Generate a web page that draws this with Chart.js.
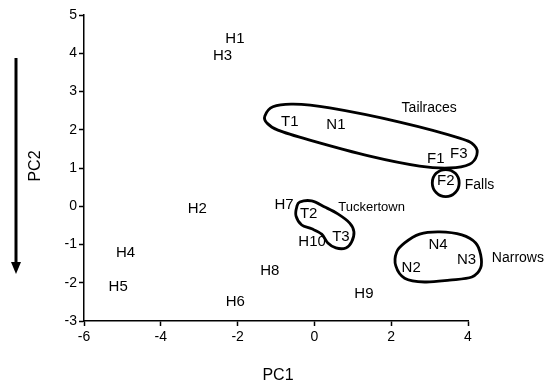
<!DOCTYPE html>
<html>
<head>
<meta charset="utf-8">
<script src="https://cdn.jsdelivr.net/npm/chart.js@4/dist/chart.umd.min.js"></script>
<style>
  html, body { margin: 0; padding: 0; background: #fff; }
  #wrap { width: 547px; height: 388px; }
</style>
</head>
<body>
<div id="wrap"><canvas id="c" width="547" height="388"></canvas></div>
<script>
// Site scores on the first two principal components
const sites = ['H1', 'H3', 'T1', 'N1', 'F1', 'F3', 'F2', 'H7', 'T2', 'H10', 'T3',
               'N4', 'N3', 'N2', 'H2', 'H4', 'H5', 'H6', 'H8', 'H9'];
const pc1 = [-2.07, -2.39, -0.64, 0.56, 3.16, 3.76, 3.42, -0.79, -0.15, -0.06, 0.69,
             3.22, 3.96, 2.52, -3.05, -4.92, -5.11, -2.06, -1.16, 1.29];
const pc2 = [4.37, 3.93, 2.21, 2.14, 1.25, 1.37, 0.67, 0.03, -0.20, -0.93, -0.81,
             -1.01, -1.41, -1.62, -0.07, -1.23, -2.10, -2.50, -1.68, -2.29];

// Group names and where they are written
const groupNames = ['Tailraces', 'Falls', 'Tuckertown', 'Narrows'];
const groupX = [2.99, 4.30, 1.49, 5.30];
const groupY = [2.56, 0.56, -0.03, -1.36];
const groupFontSize = [14, 14, 13, 14];

// Closed outlines drawn around each group (PC1, PC2 pairs)
const tailracesOutline = [
  [-1.29, 2.36], [-1.08, 2.60], [-0.55, 2.67], [0.40, 2.57], [2.22, 2.20],
  [3.78, 1.78], [4.17, 1.58], [4.23, 1.34], [4.04, 1.10], [3.52, 1.00],
  [2.74, 1.05], [1.44, 1.31], [-0.12, 1.73], [-0.95, 1.99], [-1.24, 2.18]
];
const fallsOutline = [
  [3.42, 0.96], [3.67, 0.86], [3.77, 0.61], [3.67, 0.36],
  [3.42, 0.25], [3.17, 0.36], [3.07, 0.61], [3.17, 0.86]
];
const tuckertownOutline = [
  [-0.38, 0.11], [-0.07, 0.14], [0.27, -0.02], [0.61, -0.20], [0.92, -0.44],
  [1.03, -0.67], [0.97, -0.93], [0.82, -1.09], [0.56, -1.09], [0.35, -0.96],
  [0.19, -0.73], [-0.07, -0.59], [-0.33, -0.49], [-0.48, -0.25], [-0.46, -0.02]
];
const narrowsOutline = [
  [2.35, -0.96], [2.74, -0.73], [3.26, -0.67], [3.84, -0.75], [4.20, -0.96],
  [4.33, -1.27], [4.33, -1.61], [4.10, -1.85], [3.52, -1.93], [2.87, -1.98],
  [2.35, -1.88], [2.12, -1.56], [2.14, -1.20]
];
const outlines = [tailracesOutline, fallsOutline, tuckertownOutline, narrowsOutline];

const FONT = '"Liberation Sans", Arial, sans-serif';

// Smooth closed curve (Catmull-Rom) through pixel points
function closedSpline(ctx, pts) {
  const n = pts.length;
  ctx.beginPath();
  ctx.moveTo(pts[0][0], pts[0][1]);
  for (let i = 0; i < n; i++) {
    const p0 = pts[(i - 1 + n) % n], p1 = pts[i], p2 = pts[(i + 1) % n], p3 = pts[(i + 2) % n];
    const c1x = p1[0] + (p2[0] - p0[0]) / 6, c1y = p1[1] + (p2[1] - p0[1]) / 6;
    const c2x = p2[0] - (p3[0] - p1[0]) / 6, c2y = p2[1] - (p3[1] - p1[1]) / 6;
    ctx.bezierCurveTo(c1x, c1y, c2x, c2y, p2[0], p2[1]);
  }
  ctx.closePath();
}

const annotate = {
  id: 'annotate',
  afterDatasetsDraw(chart) {
    const ctx = chart.ctx;
    const xs = chart.scales.x, ys = chart.scales.y;
    ctx.save();
    // group outlines
    ctx.strokeStyle = '#000';
    ctx.lineWidth = 2.8;
    outlines.forEach(o => {
      const pts = o.map(p => [xs.getPixelForValue(p[0]), ys.getPixelForValue(p[1])]);
      closedSpline(ctx, pts);
      ctx.stroke();
    });
    // site labels at each point
    ctx.fillStyle = '#000';
    ctx.textAlign = 'center';
    ctx.textBaseline = 'middle';
    ctx.font = '15px ' + FONT;
    const meta = chart.getDatasetMeta(0);
    meta.data.forEach((el, i) => {
      ctx.fillText(sites[i], el.x, el.y);
    });
    // group names
    groupNames.forEach((g, i) => {
      ctx.font = groupFontSize[i] + 'px ' + FONT;
      ctx.fillText(g, xs.getPixelForValue(groupX[i]), ys.getPixelForValue(groupY[i]));
    });
    // axis titles
    ctx.font = '16px ' + FONT;
    ctx.fillText('PC1', 278, 376);
    ctx.save();
    ctx.translate(36, 166);
    ctx.rotate(-Math.PI / 2);
    ctx.fillText('PC2', 0, 0);
    ctx.restore();
    // downward arrow beside PC2
    ctx.lineWidth = 3;
    ctx.beginPath();
    ctx.moveTo(16, 58);
    ctx.lineTo(16, 264);
    ctx.stroke();
    ctx.beginPath();
    ctx.moveTo(11, 262);
    ctx.lineTo(21, 262);
    ctx.lineTo(16, 274);
    ctx.closePath();
    ctx.fill();
    ctx.restore();
  }
};

const whiteBg = {
  id: 'whiteBg',
  beforeDraw(chart) {
    const ctx = chart.ctx;
    ctx.save();
    ctx.fillStyle = '#fff';
    ctx.fillRect(0, 0, chart.width, chart.height);
    ctx.restore();
  }
};

new Chart(document.getElementById('c'), {
  type: 'scatter',
  data: {
    datasets: [{
      data: sites.map((s, i) => ({ x: pc1[i], y: pc2[i] })),
      pointRadius: 0,
      pointHoverRadius: 0
    }]
  },
  options: {
    responsive: false,
    animation: false,
    events: [],
    layout: { padding: { top: 15, right: 79, bottom: 0, left: 0 } },
    plugins: { legend: { display: false }, tooltip: { enabled: false } },
    scales: {
      x: {
        type: 'linear',
        min: -6, max: 4,
        afterFit(s) { s.height = 67; },
        border: { display: true, color: '#000', width: 1.5 },
        grid: { drawOnChartArea: false, drawTicks: true, tickLength: 5, tickColor: '#000', tickWidth: 1.5 },
        ticks: { stepSize: 2, color: '#000', padding: 3, font: { family: FONT, size: 14 } }
      },
      y: {
        type: 'linear',
        min: -3, max: 5,
        afterFit(s) { s.width = 84; },
        border: { display: true, color: '#000', width: 1.5 },
        grid: { drawOnChartArea: false, drawTicks: true, tickLength: 5, tickColor: '#000', tickWidth: 1.5 },
        ticks: { stepSize: 1, color: '#000', padding: 2, font: { family: FONT, size: 14 } }
      }
    }
  },
  plugins: [whiteBg, annotate]
});
</script>
</body>
</html>
